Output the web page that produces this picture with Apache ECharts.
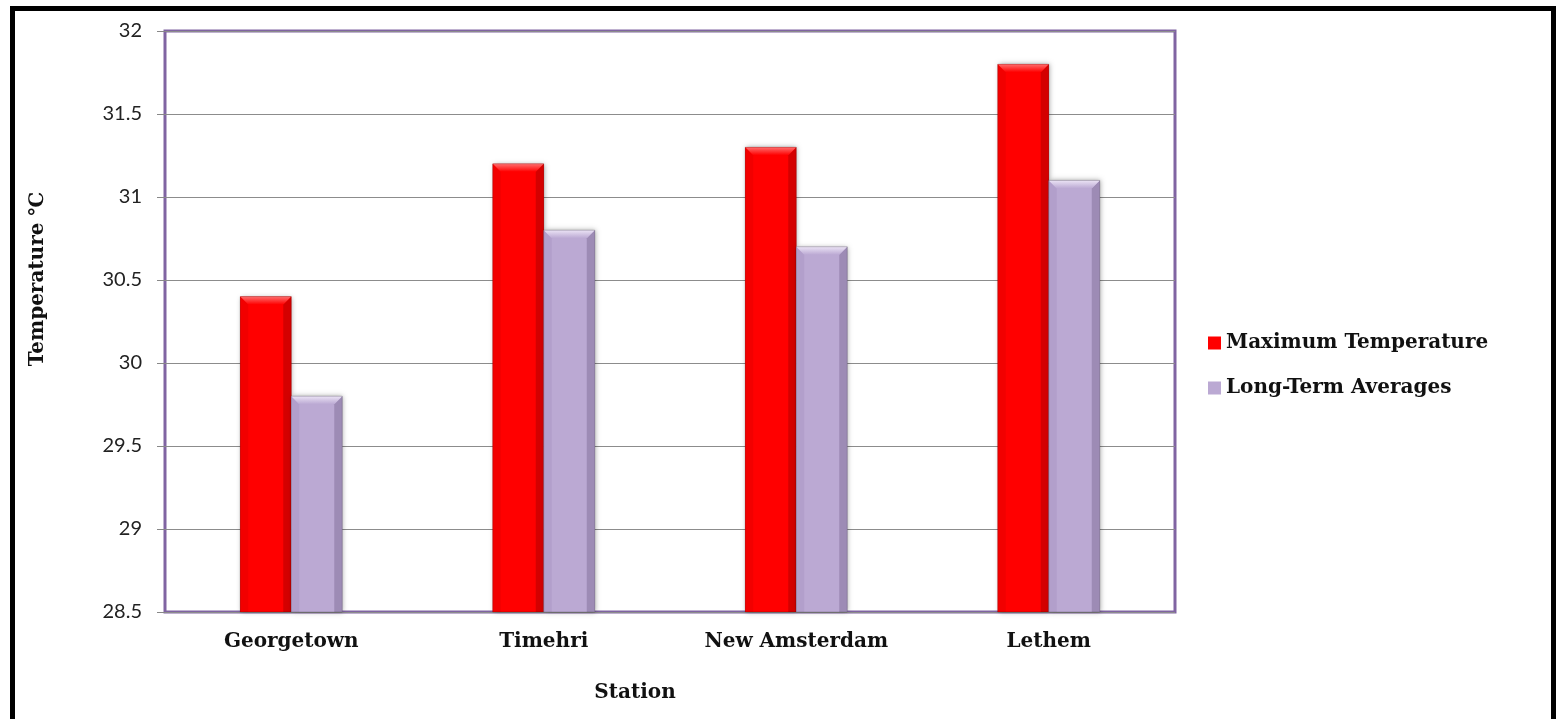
<!DOCTYPE html>
<html>
<head>
<meta charset="utf-8">
<title>Station temperatures</title>
<script src="https://cdn.jsdelivr.net/npm/echarts@6/dist/echarts.min.js"></script>
<style>
  html, body { margin: 0; padding: 0; background: #ffffff; }
  #chart { width: 1561px; height: 719px; }
</style>
</head>
<body>
<div id="chart"></div>
<script>
// Stations and temperatures (°C)
const stations = ['Georgetown', 'Timehri', 'New Amsterdam', 'Lethem'];
const maxTemperature = [30.4, 31.2, 31.3, 31.8];
const longTermAverages = [29.8, 30.8, 30.7, 31.1];
const seriesNames = ['Maximum Temperature', 'Long-Term Averages'];
const yMin = 28.5, yMax = 32, yStep = 0.5;

const palette = [
  { base: '#ff0000', light: '#ff6e6e', dark: '#d40000', side: '#f20000' },
  { base: '#bba9d3', light: '#ebe3f5', dark: '#9d8bb5', side: '#b29fcb' }
];

const serif = '"DejaVu Serif", "Liberation Serif", serif';
const sans = 'Lato, "Open Sans", "Liberation Sans", sans-serif';

// Bevelled column drawn from the category index and value through the axes
function bevelBar(seriesIdx) {
  const c = palette[seriesIdx];
  return function (params, api) {
    const idx = api.value(0);
    const val = api.value(1);
    const top = api.coord([idx, val]);
    const base = api.coord([idx, yMin]);
    const cw = api.size([1, 0])[0];
    const bw = cw * 0.202;
    const x0 = seriesIdx === 0 ? top[0] - bw : top[0];
    const y0 = top[1];
    const h = base[1] - y0;
    const b = Math.min(8, h / 2);
    return {
      type: 'group',
      children: [
        { type: 'rect', shape: { x: x0, y: y0, width: bw, height: h },
          style: { fill: c.base, shadowBlur: 5, shadowColor: 'rgba(0,0,0,0.35)', shadowOffsetX: 1, shadowOffsetY: 0 } },
        { type: 'polygon', shape: { points: [[x0, y0], [x0 + b, y0 + b], [x0 + b, y0 + h], [x0, y0 + h]] },
          style: { fill: c.side } },
        { type: 'polygon', shape: { points: [[x0 + bw, y0], [x0 + bw - b, y0 + b], [x0 + bw - b, y0 + h], [x0 + bw, y0 + h]] },
          style: { fill: c.dark } },
        { type: 'polygon', shape: { points: [[x0, y0], [x0 + bw, y0], [x0 + bw - b, y0 + b], [x0 + b, y0 + b]] },
          style: { fill: { type: 'linear', x: 0, y: 0, x2: 0, y2: 1,
            colorStops: [{ offset: 0, color: c.light }, { offset: 1, color: c.base }] } } },
        { type: 'rect', shape: { x: x0, y: y0, width: bw, height: h },
          style: { fill: 'none', stroke: 'rgba(0,0,0,0.18)', lineWidth: 1 } }
      ]
    };
  };
}

const chart = echarts.init(document.getElementById('chart'), null, { renderer: 'canvas' });

chart.setOption({
  backgroundColor: '#ffffff',
  animation: false,
  grid: {
    left: 165, top: 31, right: 386, bottom: 107,
    show: true, backgroundColor: '#ffffff',
    borderColor: '#8064a2', borderWidth: 3, z: 0
  },
  legend: {
    orient: 'vertical',
    left: 1208, top: 333,
    padding: 0,
    itemWidth: 13, itemHeight: 13, itemGap: 25,
    icon: 'rect',
    data: seriesNames,
    textStyle: { fontFamily: serif, fontWeight: 'bold', fontSize: 20, color: '#111' }
  },
  xAxis: {
    type: 'category',
    data: stations,
    axisLine: { show: false },
    axisTick: { show: false },
    axisLabel: { fontFamily: serif, fontWeight: 'bold', fontSize: 20, color: '#111', margin: 20 }
  },
  yAxis: {
    type: 'value',
    min: yMin, max: yMax, interval: yStep,
    axisLine: { show: false },
    axisTick: { show: true, length: 8, lineStyle: { color: '#888' } },
    axisLabel: { fontFamily: sans, fontSize: 20, color: '#222', margin: 23 },
    splitLine: { show: true, lineStyle: { color: '#8c8c8c', width: 1 } }
  },
  series: [
    { name: seriesNames[0], type: 'custom', renderItem: bevelBar(0), itemStyle: { color: palette[0].base },
      data: maxTemperature.map((v, i) => [i, v]), z: 3 },
    { name: seriesNames[1], type: 'custom', renderItem: bevelBar(1), itemStyle: { color: palette[1].base },
      data: longTermAverages.map((v, i) => [i, v]), z: 3 }
  ],
  graphic: [
    { type: 'rect', left: 10, top: 6, z: 100, silent: true,
      shape: { width: 1541, height: 730 },
      style: { fill: 'none', stroke: '#000', lineWidth: 5 } },
    { type: 'text', x: 38, y: 279, rotation: Math.PI / 2, z: 100,
      style: { text: 'Temperature ℃', fontFamily: serif, fontWeight: 'bold', fontSize: 20, fill: '#111',
               align: 'center', verticalAlign: 'middle' } },
    { type: 'text', x: 635, y: 693, z: 100,
      style: { text: 'Station', fontFamily: serif, fontWeight: 'bold', fontSize: 20, fill: '#111',
               align: 'center', verticalAlign: 'middle' } }
  ]
});
</script>
</body>
</html>
